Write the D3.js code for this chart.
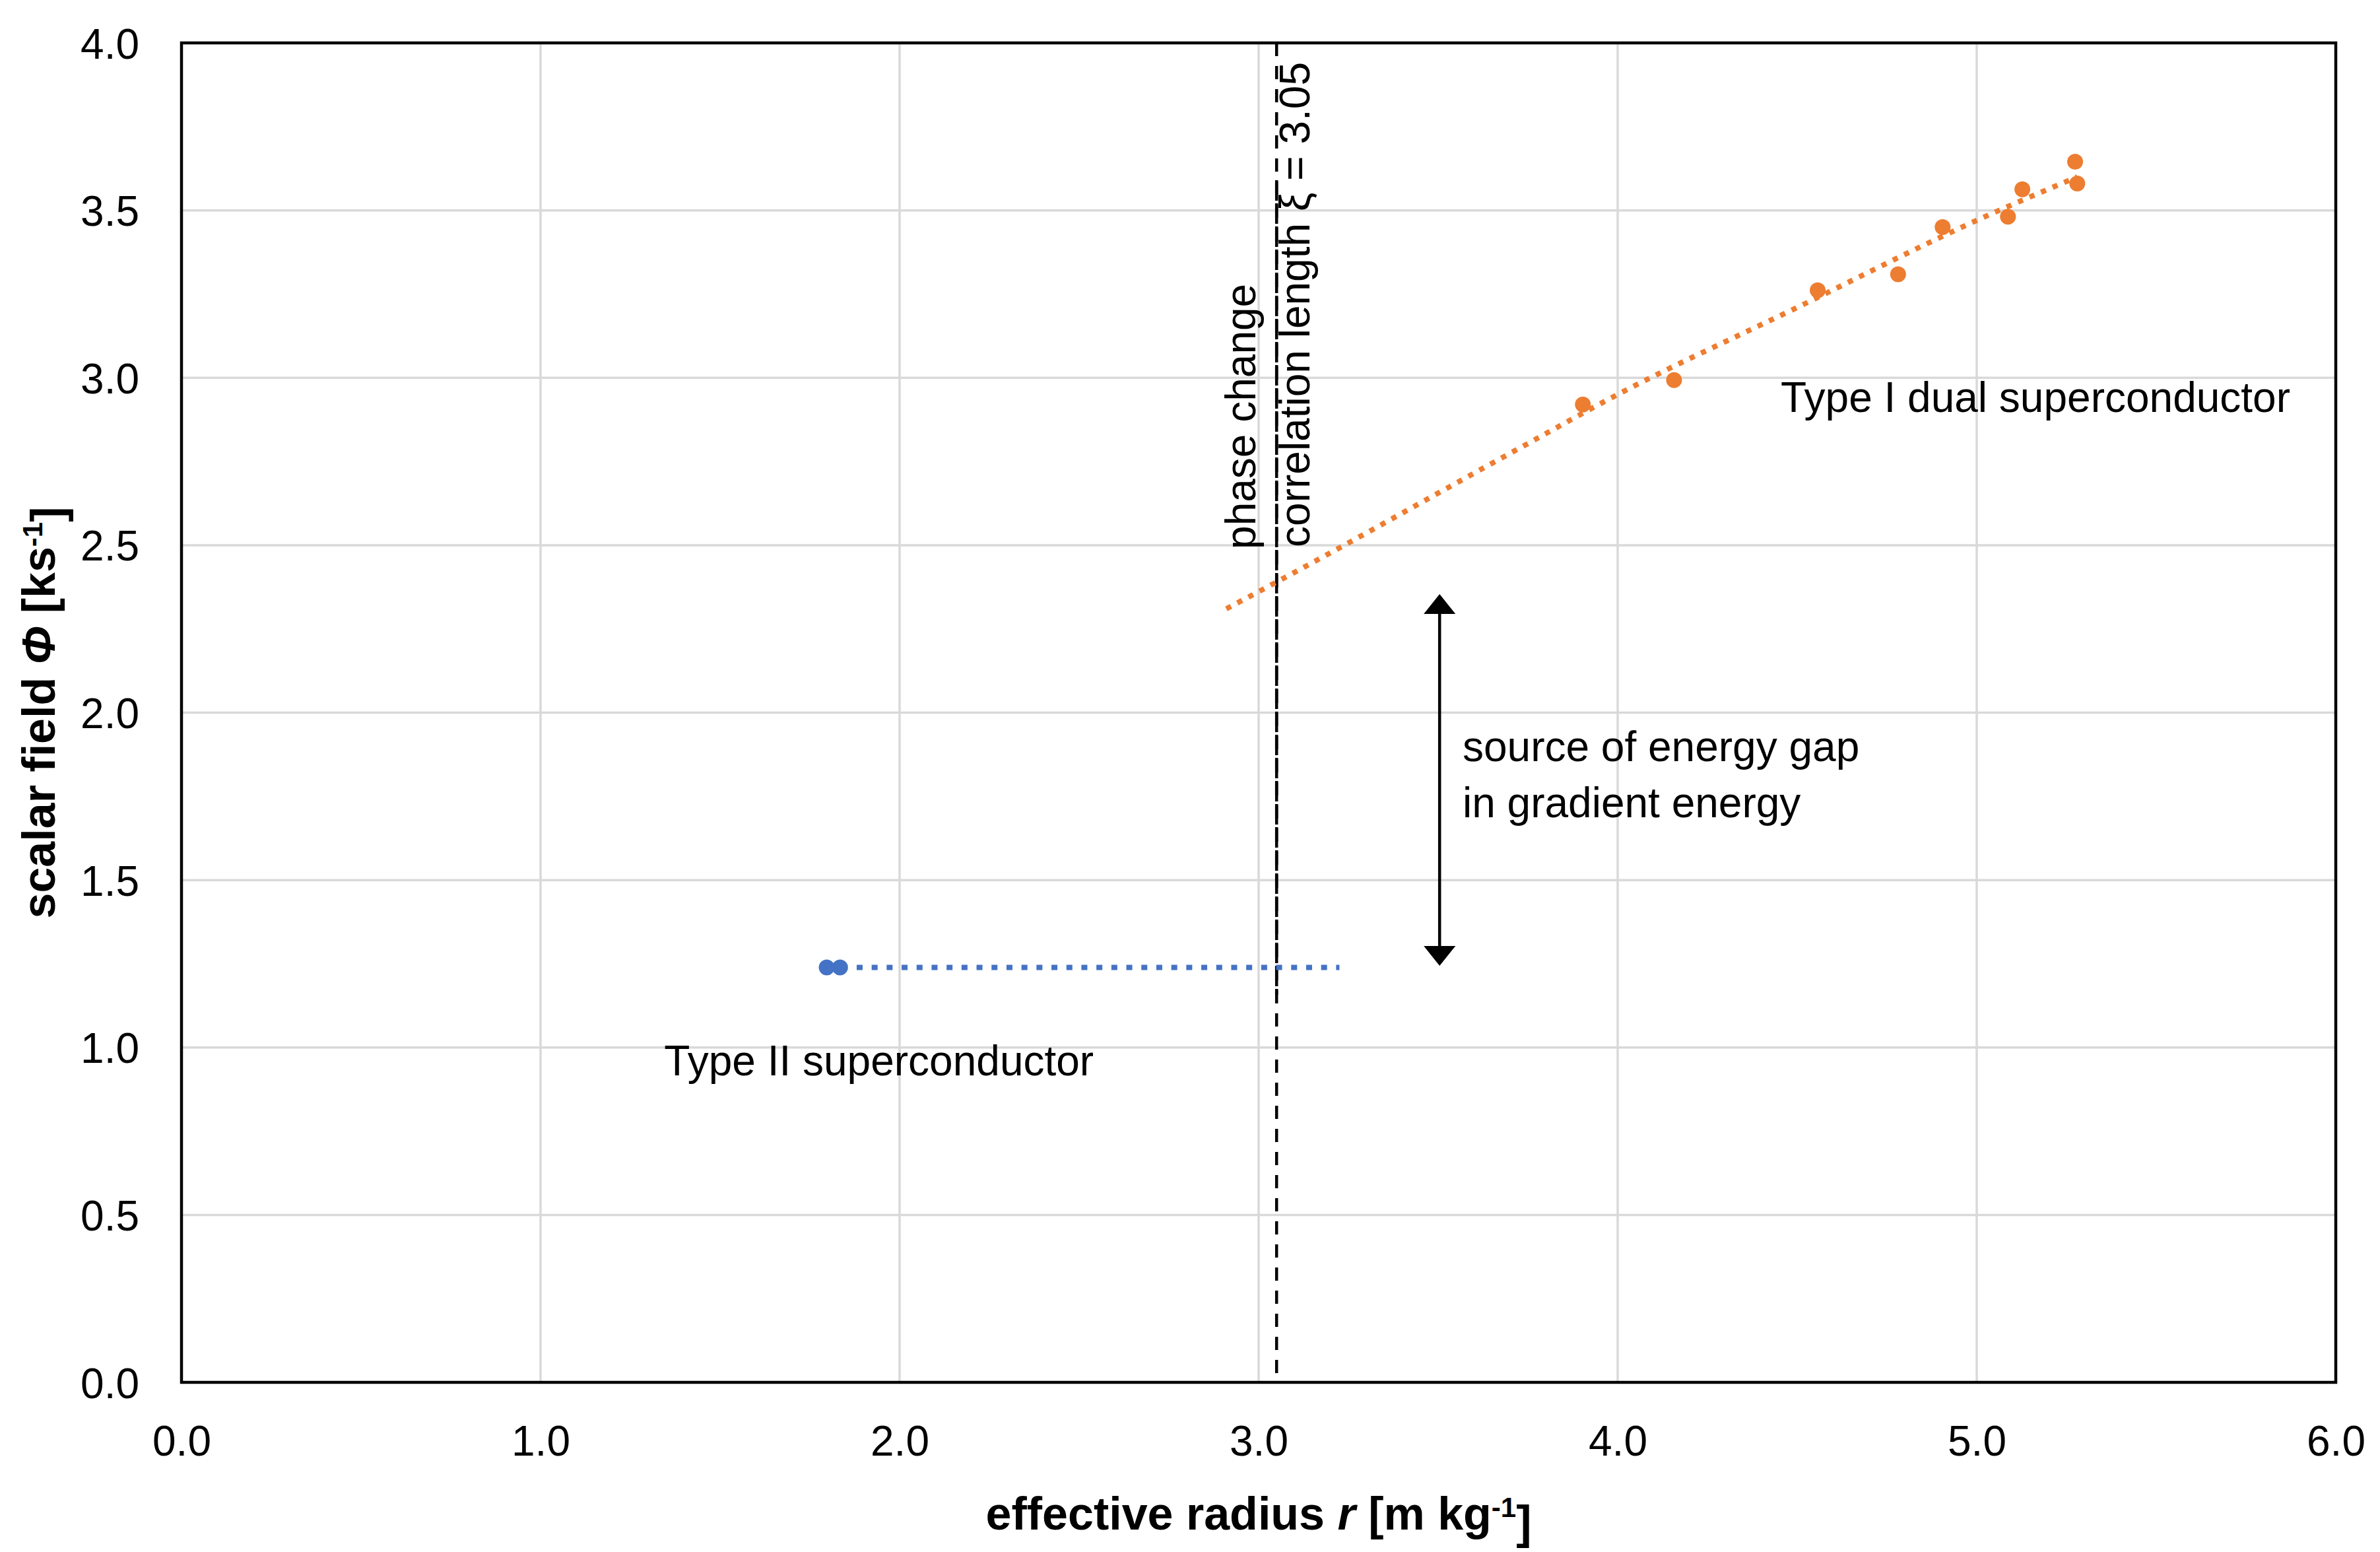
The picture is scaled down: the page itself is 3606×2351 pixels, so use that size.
<!DOCTYPE html>
<html>
<head>
<meta charset="utf-8">
<script src="https://cdn.jsdelivr.net/npm/d3@7/dist/d3.min.js"></script>
<style>
  body { margin: 0; background: #ffffff; }
  svg text { font-family: "Liberation Sans", Arial, sans-serif; fill: #000; }
</style>
</head>
<body>
<div id="chart"></div>
<script>
// axis ticks
const xTicks = [0, 1, 2, 3, 4, 5, 6];
const yTicks = [0, 0.5, 1, 1.5, 2, 2.5, 3, 3.5, 4];

// Type I dual superconductor (orange)
const type1R = [3.903, 4.157, 4.557, 4.781, 4.905, 5.087, 5.127, 5.274, 5.280];
const type1Phi = [2.920, 2.993, 3.261, 3.309, 3.450, 3.481, 3.563, 3.645, 3.580];
// its trendline
const type1TrendR = [2.91, 3.05, 3.71, 4.0, 4.5, 5.0, 5.28];
const type1TrendPhi = [2.31, 2.39, 2.78, 2.95, 3.21, 3.47, 3.60];

// Type II superconductor (blue)
const type2R = [1.797, 1.834];
const type2Phi = [1.239, 1.239];
const type2TrendR = [1.797, 3.225];
const type2TrendPhi = [1.239, 1.239];

// phase change marker and energy gap arrow
const xiValue = 3.05;
const gapArrowR = 3.504;
const gapArrowPhi = [2.354, 1.244];

const width = 3606;
const height = 2351;
const margin = { top: 65, right: 67, bottom: 257, left: 275 };

const svg = d3
  .select("#chart")
  .append("svg")
  .attr("width", width)
  .attr("height", height);

svg.append("rect").attr("width", width).attr("height", height).attr("fill", "#fff");

const x = d3.scaleLinear().domain([0, 6]).range([margin.left, width - margin.right]);
const y = d3.scaleLinear().domain([0, 4]).range([height - margin.bottom, margin.top]);

// gridlines
svg
  .append("g")
  .selectAll("line")
  .data(yTicks)
  .enter()
  .append("line")
  .attr("x1", x(0))
  .attr("x2", x(6))
  .attr("y1", (d) => y(d))
  .attr("y2", (d) => y(d))
  .attr("stroke", "#d9d9d9")
  .attr("stroke-width", 3.5);

svg
  .append("g")
  .selectAll("line")
  .data(xTicks)
  .enter()
  .append("line")
  .attr("x1", (d) => x(d))
  .attr("x2", (d) => x(d))
  .attr("y1", y(0))
  .attr("y2", y(4))
  .attr("stroke", "#d9d9d9")
  .attr("stroke-width", 3.5);

// axes (labels only, the frame is drawn as a rect)
const xAxis = svg
  .append("g")
  .attr("transform", `translate(0, ${y(0)})`)
  .call(d3.axisBottom(x).tickValues(xTicks).tickFormat(d3.format(".1f")).tickSize(0).tickPadding(66));
const yAxis = svg
  .append("g")
  .attr("transform", `translate(${x(0)}, 0)`)
  .call(d3.axisLeft(y).tickValues(yTicks).tickFormat(d3.format(".1f")).tickSize(0).tickPadding(64));

[xAxis, yAxis].forEach((g) => {
  g.select(".domain").remove();
  g.selectAll("text")
    .attr("font-family", null)
    .style("font-size", "64px")
    .attr("fill", "#000");
});
yAxis.selectAll("text").attr("dy", "0.36em");

// plot frame
svg
  .append("rect")
  .attr("x", x(0))
  .attr("y", y(4))
  .attr("width", x(6) - x(0))
  .attr("height", y(0) - y(4))
  .attr("fill", "none")
  .attr("stroke", "#000")
  .attr("stroke-width", 4.5);

// correlation length line (two dashed strokes overlap in the middle part)
svg
  .append("line")
  .attr("x1", x(xiValue))
  .attr("x2", x(xiValue))
  .attr("y1", y(4))
  .attr("y2", y(0))
  .attr("stroke", "#000")
  .attr("stroke-width", 4.5)
  .attr("stroke-dasharray", "20,15");
svg
  .append("line")
  .attr("x1", x(xiValue))
  .attr("x2", x(xiValue))
  .attr("y1", y(3.59))
  .attr("y2", y(1.157))
  .attr("stroke", "#000")
  .attr("stroke-width", 4.5)
  .attr("stroke-dasharray", "31,4");

// trendlines
const trendLine = d3
  .line()
  .x((d) => x(d[0]))
  .y((d) => y(d[1]))
  .curve(d3.curveMonotoneX);

svg
  .append("path")
  .attr("d", trendLine(d3.zip(type2TrendR, type2TrendPhi)))
  .attr("fill", "none")
  .attr("stroke", "#4472c4")
  .attr("stroke-width", 8)
  .attr("stroke-dasharray", "9,13.7");

svg
  .append("path")
  .attr("d", trendLine(d3.zip(type1TrendR, type1TrendPhi)))
  .attr("fill", "none")
  .attr("stroke", "#ed7d31")
  .attr("stroke-width", 8)
  .attr("stroke-dasharray", "8,11");

// data points
svg
  .append("g")
  .selectAll("circle")
  .data(d3.zip(type2R, type2Phi))
  .enter()
  .append("circle")
  .attr("cx", (d) => x(d[0]))
  .attr("cy", (d) => y(d[1]))
  .attr("r", 12)
  .attr("fill", "#4472c4");

svg
  .append("g")
  .selectAll("circle")
  .data(d3.zip(type1R, type1Phi))
  .enter()
  .append("circle")
  .attr("cx", (d) => x(d[0]))
  .attr("cy", (d) => y(d[1]))
  .attr("r", 12)
  .attr("fill", "#ed7d31");

// double headed arrow for the energy gap
const defs = svg.append("defs");
defs
  .append("marker")
  .attr("id", "head")
  .attr("markerUnits", "userSpaceOnUse")
  .attr("viewBox", "0 0 30 48")
  .attr("refX", 22)
  .attr("refY", 24)
  .attr("markerWidth", 30)
  .attr("markerHeight", 48)
  .attr("orient", "auto-start-reverse")
  .append("path")
  .attr("d", "M0,0 L30,24 L0,48 Z")
  .attr("fill", "#000");

svg
  .append("line")
  .attr("x1", x(gapArrowR))
  .attr("x2", x(gapArrowR))
  .attr("y1", y(gapArrowPhi[0]) + 8)
  .attr("y2", y(gapArrowPhi[1]) - 8)
  .attr("stroke", "#000")
  .attr("stroke-width", 4.5)
  .attr("marker-start", "url(#head)")
  .attr("marker-end", "url(#head)");

// annotations
const note = svg.append("g").style("font-size", "64px");

note
  .append("text")
  .attr("transform", `translate(${x(2.991)}, ${y(2.488)}) rotate(-90)`)
  .text("phase change");
note
  .append("text")
  .attr("transform", `translate(${x(3.141)}, ${y(2.494)}) rotate(-90)`)
  .text("correlation length \u03be = 3.05");
note
  .append("text")
  .attr("x", x(4.454))
  .attr("y", y(2.898))
  .text("Type I dual superconductor");
note
  .append("text")
  .attr("x", x(1.344))
  .attr("y", y(0.917))
  .text("Type II superconductor");

const gapText = note.append("text").attr("x", x(3.568)).attr("y", y(1.855));
gapText.append("tspan").text("source of energy gap");
gapText.append("tspan").attr("x", x(3.568)).attr("dy", "1.32em").text("in gradient energy");

// axis titles
const xTitle = svg
  .append("text")
  .attr("x", (x(0) + x(6)) / 2)
  .attr("y", 2317)
  .attr("text-anchor", "middle")
  .style("font-size", "70px")
  .style("font-weight", "bold");
xTitle.append("tspan").text("effective radius ");
xTitle.append("tspan").style("font-style", "italic").text("r");
xTitle.append("tspan").text(" [m kg");
xTitle.append("tspan").attr("dy", "-0.45em").style("font-size", "42px").text("-1");
xTitle.append("tspan").attr("dy", "0.45em").text("]");

const yTitle = svg
  .append("text")
  .attr("transform", `translate(83, ${(y(0) + y(4)) / 2}) rotate(-90)`)
  .attr("text-anchor", "middle")
  .style("font-size", "70px")
  .style("font-weight", "bold");
yTitle.append("tspan").text("scalar field ");
yTitle.append("tspan").style("font-style", "italic").text("\u03a6");
yTitle.append("tspan").text(" [ks");
yTitle.append("tspan").attr("dy", "-0.45em").style("font-size", "42px").text("-1");
yTitle.append("tspan").attr("dy", "0.45em").text("]");
</script>
</body>
</html>
